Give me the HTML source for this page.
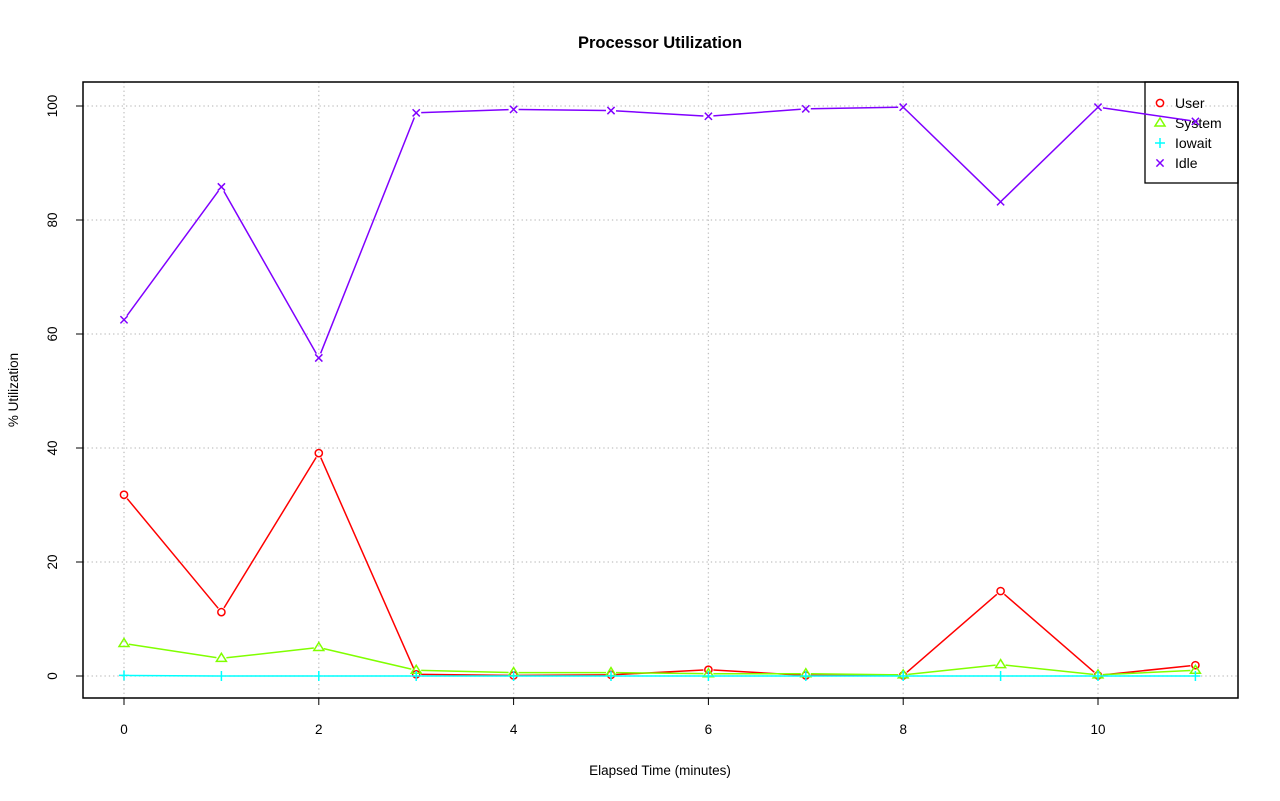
<!DOCTYPE html>
<html><head><meta charset="utf-8"><style>
html,body{margin:0;padding:0;background:#fff}
svg{display:block;font-family:"Liberation Sans",Arial,sans-serif}
</style></head><body>
<svg id="s" width="1280" height="801" viewBox="0 0 1280 801" xmlns="http://www.w3.org/2000/svg">
<rect width="1280" height="801" fill="#fff"/>
<text x="660" y="48" text-anchor="middle" font-size="16.5" font-weight="bold">Processor Utilization</text>
<text x="660" y="775" text-anchor="middle" font-size="13.5">Elapsed Time (minutes)</text>
<text transform="translate(18,390) rotate(-90)" text-anchor="middle" font-size="13.5">% Utilization</text>
<g id="g"></g>
</svg>
<script>
const g=document.getElementById('g');
const X=v=>124+97.4*v, Y=v=>676-5.7*v;
let h='';
const gs='stroke="#c0c0c0" stroke-width="1.3" stroke-dasharray="1.3,3"';
for(let i=0;i<=10;i+=2){h+=`<line x1="${X(i)}" y1="82" x2="${X(i)}" y2="698" ${gs}/>`;
h+=`<line x1="${X(i)}" y1="698" x2="${X(i)}" y2="705" stroke="#000"/><text x="${X(i)}" y="734" text-anchor="middle" font-size="13.5">${i}</text>`;}
h+=`<line x1="${X(0)}" y1="698" x2="${X(10)}" y2="698" stroke="#000"/>`;
for(let v=0;v<=100;v+=20){h+=`<line x1="83" y1="${Y(v)}" x2="1238" y2="${Y(v)}" ${gs}/>`;
h+=`<line x1="76" y1="${Y(v)}" x2="83" y2="${Y(v)}" stroke="#000"/><text transform="translate(57,${Y(v)}) rotate(-90)" text-anchor="middle" font-size="13.5">${v}</text>`;}
h+=`<line x1="83" y1="${Y(0)}" x2="83" y2="${Y(100)}" stroke="#000"/>`;
const S={
Idle:{c:'#8000ff',d:[62.5,85.8,55.8,98.8,99.4,99.2,98.2,99.5,99.8,83.2,99.8,97.3],p:'x'},
User:{c:'#ff0000',d:[31.8,11.2,39.1,0.3,0.1,0.2,1.1,0.1,0.1,14.9,0.1,1.9],p:'o'},
System:{c:'#80ff00',d:[5.7,3.1,5.0,1.0,0.6,0.6,0.4,0.4,0.2,2.0,0.2,1.0],p:'t'},
Iowait:{c:'#00ffff',d:[0.1,0,0,0,0,0,0,0,0,0,0,0],p:'+'}};
function pch(p,x,y,c){
 if(p=='o')return `<circle cx="${x}" cy="${y}" r="3.6" fill="none" stroke="${c}" stroke-width="1.5"/>`;
 if(p=='t')return `<polygon points="${x},${y-5} ${x-5},${y+3} ${x+5},${y+3}" fill="none" stroke="${c}" stroke-width="1.5"/>`;
 if(p=='+')return `<path d="M${x-5} ${y}H${x+5}M${x} ${y-5}V${y+5}" stroke="${c}" stroke-width="1.5"/>`;
 return `<path d="M${x-3.6} ${y-3.6}L${x+3.6} ${y+3.6}M${x-3.6} ${y+3.6}L${x+3.6} ${y-3.6}" stroke="${c}" stroke-width="1.5"/>`;}
h+=`<rect x="1145" y="82" width="93" height="101" fill="none" stroke="#000" stroke-width="1.3"/>`;
['User','System','Iowait','Idle'].forEach((k,i)=>{const y=103+20*i;h+=pch(S[k].p,1160,y,S[k].c)+`<text x="1175" y="${y+5}" font-size="14">${k}</text>`;});
for(const k of ['User','System','Iowait','Idle']){const s=S[k];
 const pts=s.d.map((v,i)=>[X(i),Y(v)]);
 let d='';pts.forEach((p,i)=>{
  if(i>0){const a=pts[i-1],dx=p[0]-a[0],dy=p[1]-a[1],L=Math.hypot(dx,dy),o=5;
   if(L>2*o)d+=`M${a[0]+dx*o/L} ${a[1]+dy*o/L}L${p[0]-dx*o/L} ${p[1]-dy*o/L}`;}});
 h+=`<path d="${d}" fill="none" stroke="${s.c}" stroke-width="1.5"/>`;
 pts.forEach(p=>h+=pch(s.p,p[0],p[1],s.c));}
h+=`<rect x="83" y="82" width="1155" height="616" fill="none" stroke="#000" stroke-width="1.5"/>`;
g.innerHTML=h;
</script>
</body></html>
